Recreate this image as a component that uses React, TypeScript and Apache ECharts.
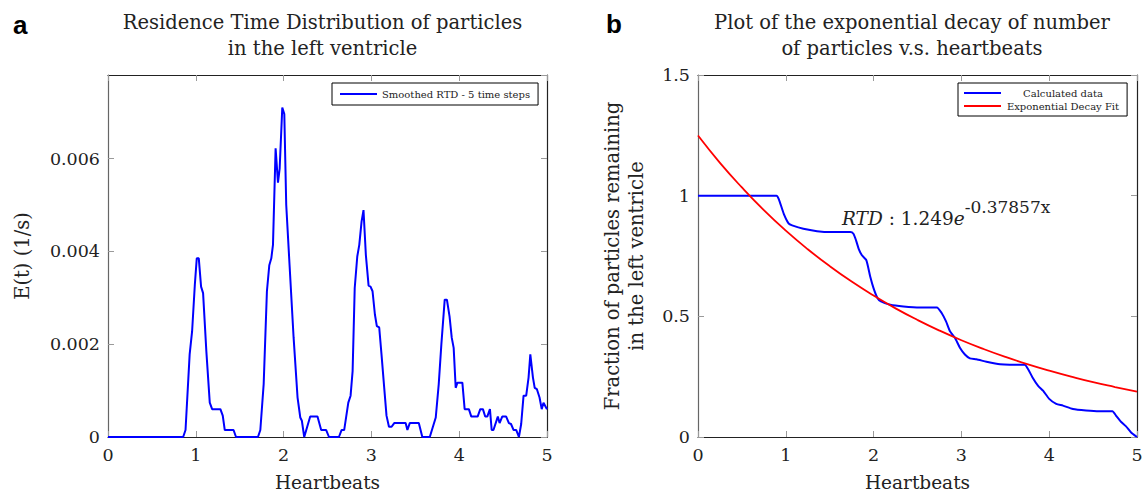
import React, { useEffect, useRef } from "react";
import * as echarts from "echarts";

const SERIF = "'DejaVu Serif', serif";
const SANS = "'Liberation Sans', Arial, sans-serif";

const leftTitle = "Residence Time Distribution of particles\nin the left ventricle";
const rightTitle = "Plot of the exponential decay of number\nof particles v.s. heartbeats";
const xName = "Heartbeats";
const leftYName = "E(t) (1/s)";
const rightYName = "Fraction of particles remaining\nin the left ventricle";
const rtdName = "Smoothed RTD - 5 time steps";
const decayName = "Calculated data";
const fitName = "Exponential Decay Fit";

const xTickValues = [0, 1, 2, 3, 4, 5];
const leftYTickLabels = ["0", "0.002", "0.004", "0.006"];
const rightYTickLabels = ["0", "0.5", "1", "1.5"];

// Smoothed RTD (panel a)
const rtdX = [
  0, 0.856, 0.883, 0.93, 0.958, 0.989, 1.011, 1.034, 1.06, 1.083, 1.12, 1.159, 1.186, 1.28, 1.307, 1.33, 1.43,
  1.458, 1.708, 1.735, 1.773, 1.81, 1.837, 1.86, 1.879, 1.909, 1.936, 1.955, 1.985, 2.008, 2.03, 2.068, 2.114,
  2.159, 2.19, 2.208, 2.235, 2.303, 2.386, 2.428, 2.485, 2.517, 2.63, 2.66, 2.69, 2.737, 2.763, 2.786, 2.81,
  2.839, 2.862, 2.888, 2.91, 2.937, 2.968, 2.99, 3.013, 3.04, 3.062, 3.089, 3.115, 3.146, 3.172, 3.2, 3.23,
  3.26, 3.39, 3.41, 3.437, 3.54, 3.58, 3.665, 3.733, 3.767, 3.797, 3.835, 3.86, 3.89, 3.915, 3.937, 3.96,
  3.98, 4.036, 4.062, 4.11, 4.138, 4.21, 4.24, 4.27, 4.296, 4.32, 4.35, 4.37, 4.39, 4.44, 4.46, 4.49, 4.535,
  4.566, 4.59, 4.62, 4.65, 4.68, 4.706, 4.733, 4.763, 4.79, 4.81, 4.84, 4.86, 4.885, 4.915, 4.94, 4.96, 5.0,
];
const rtdY = [
  0, 0, 0.00015, 0.00178, 0.00228, 0.00328, 0.00385, 0.00385, 0.00324, 0.0031, 0.00185, 0.00074, 0.0006, 0.0006,
  0.00046, 0.00015, 0.00015, 0, 0, 0.00015, 0.00114, 0.00314, 0.0037, 0.00385, 0.00414, 0.00622, 0.00548, 0.00578,
  0.0071, 0.00696, 0.005, 0.0037, 0.00214, 0.00085, 0.00042, 0.00035, 0, 0.00044, 0.00044, 0.00015, 0.00015, 0,
  0, 0.00015, 0.00015, 0.00074, 0.00089, 0.00142, 0.00321, 0.00389, 0.00414, 0.00464, 0.00489, 0.00392, 0.00326,
  0.00324, 0.00314, 0.00264, 0.00239, 0.00236, 0.00178, 0.00106, 0.00046, 0.00022, 0.00022, 0.0003, 0.0003,
  0.00015, 0.0003, 0.0003, 0, 0, 0.00042, 0.00114, 0.002, 0.00296, 0.00296, 0.0026, 0.00214, 0.00192, 0.00106,
  0.00117, 0.00117, 0.0006, 0.0006, 0.00044, 0.00044, 0.0006, 0.0006, 0.00044, 0.00044, 0.0006, 0.00015, 0.00015,
  0.00044, 0.0003, 0.00044, 0.00044, 0.0003, 0.00028, 0.00015, 0.00015, 0, 0.00028, 0.00089, 0.00089, 0.00128,
  0.00178, 0.00128, 0.00106, 0.00103, 0.00085, 0.0006, 0.00074, 0.0006,
];

// Fraction remaining (panel b)
const decayX = [
  0, 0.894, 0.92, 0.977, 1.034, 1.072, 1.2, 1.356, 1.508, 1.735, 1.77, 1.8, 1.83, 1.867, 1.917, 1.962, 2.0, 2.045,
  2.083, 2.19, 2.34, 2.53, 2.72, 2.775, 2.825, 2.87, 2.926, 2.983, 3.04, 3.097, 3.17, 3.286, 3.44, 3.55, 3.72,
  3.76, 3.81, 3.874, 3.93, 4.0, 4.08, 4.157, 4.27, 4.42, 4.57, 4.72, 4.76, 4.82, 4.875, 4.93, 5.0,
];
const decayY = [
  1.0, 1.0, 0.986, 0.925, 0.884, 0.877, 0.863, 0.853, 0.849, 0.849, 0.842, 0.815, 0.78, 0.753, 0.733, 0.664, 0.616,
  0.575, 0.562, 0.548, 0.541, 0.537, 0.537, 0.514, 0.479, 0.438, 0.411, 0.37, 0.342, 0.326, 0.322, 0.312, 0.301,
  0.299, 0.299, 0.281, 0.247, 0.212, 0.192, 0.158, 0.137, 0.13, 0.116, 0.11, 0.107, 0.107, 0.089, 0.062, 0.044,
  0.02, 0,
];

// Exponential decay fit curve (panel b)
const fitX = [0, 0.25, 0.5, 0.75, 1, 1.25, 1.5, 1.75, 2, 2.25, 2.5, 2.75, 3, 3.25, 3.5, 3.75, 4, 4.25, 4.5, 4.75, 5];
const fitY = [
  1.249, 1.136, 1.034, 0.94, 0.855, 0.778, 0.708, 0.644, 0.586, 0.533, 0.485, 0.441, 0.401, 0.365, 0.332, 0.302,
  0.275, 0.25, 0.227, 0.207, 0.188,
];

const pairs = (xs: number[], ys: number[]) => xs.map((x, i) => [x, ys[i]]);

const tickColor = "#9a9a9a";
const frameColor = "#222";

function xAxisPair(grid: number) {
  const base = {
    gridIndex: grid,
    type: "value" as const,
    min: xTickValues[0],
    max: xTickValues[xTickValues.length - 1],
    interval: 1,
    splitLine: { show: false },
    axisTick: { show: true, inside: true, length: 6, lineStyle: { color: tickColor, width: 1 } },
  };
  return [
    {
      ...base,
      position: "bottom",
      axisLine: { show: true, onZero: false, lineStyle: { color: frameColor, width: 1.2 } },
      axisLabel: { show: true, fontFamily: SERIF, fontSize: 17.5, color: "#222", margin: 9 },
      name: xName,
      nameLocation: "middle",
      nameGap: 36,
      nameTextStyle: { fontFamily: SERIF, fontSize: 18.5, color: "#222" },
    },
    {
      ...base,
      position: "top",
      axisLine: { show: true, onZero: false, lineStyle: { color: frameColor, width: 1.2 } },
      axisLabel: { show: false },
    },
  ];
}

function yAxisPair(grid: number, max: number, interval: number, labels: string[], name: string, nameGap: number) {
  const base = {
    gridIndex: grid,
    type: "value" as const,
    min: 0,
    max,
    interval,
    splitLine: { show: false },
    axisTick: { show: true, inside: true, length: 6, lineStyle: { color: tickColor, width: 1 } },
  };
  return [
    {
      ...base,
      position: "left",
      axisLine: { show: true, onZero: false, lineStyle: { color: "#666", width: 1.2 } },
      axisLabel: {
        show: true,
        fontFamily: SERIF,
        fontSize: 17.5,
        color: "#222",
        margin: 8,
        showMaxLabel: max / interval === Math.round(max / interval),
        formatter: (v: number) => {
          const idx = Math.round(v / interval);
          return Math.abs(idx * interval - v) < interval * 1e-6 && labels[idx] !== undefined ? labels[idx] : "";
        },
      },
      name,
      nameLocation: "middle",
      nameRotate: 90,
      nameGap,
      nameTextStyle: { fontFamily: SERIF, fontSize: 19.5, color: "#222", lineHeight: 24 },
    },
    {
      ...base,
      position: "right",
      axisLine: { show: true, onZero: false, lineStyle: { color: frameColor, width: 1.2 } },
      axisLabel: { show: false },
    },
  ];
}

export default function App() {
  const ref = useRef<HTMLDivElement>(null);
  useEffect(() => {
    if (!ref.current) return;
    const chart = echarts.init(ref.current, undefined, { renderer: "svg" });
    const legendText = { fontFamily: SERIF, fontSize: 10, color: "#222" };
    chart.setOption({
      animation: false,
      backgroundColor: "#fff",
      title: [
        {
          text: leftTitle,
          left: 317.5,
          top: 4,
          textAlign: "center",
          textStyle: { fontFamily: SERIF, fontSize: 19.5, fontWeight: "normal", color: "#222", lineHeight: 26 },
        },
        {
          text: rightTitle,
          left: 907,
          top: 4,
          textAlign: "center",
          textStyle: { fontFamily: SERIF, fontSize: 19.5, fontWeight: "normal", color: "#222", lineHeight: 26 },
        },
      ],
      grid: [
        { left: 108, top: 75, width: 439, height: 364, show: false },
        { left: 698, top: 75, width: 439, height: 365, show: false },
      ],
      xAxis: [...xAxisPair(0), ...xAxisPair(1)],
      yAxis: [
        ...yAxisPair(0, 0.0078, 0.002, leftYTickLabels, leftYName, 74),
        ...yAxisPair(1, 1.5, 0.5, rightYTickLabels, rightYName, 50),
      ],
      legend: [
        {
          data: [rtdName],
          left: 332,
          top: 83,
          orient: "horizontal",
          icon: "rect",
          itemWidth: 37,
          itemHeight: 2,
          padding: [6, 8, 6, 8],
          borderColor: "#000",
          borderWidth: 1,
          borderRadius: 0,
          textStyle: legendText,
        },
        {
          data: [decayName, fitName],
          left: 958,
          top: 83,
          orient: "vertical",
          icon: "rect",
          itemWidth: 37,
          itemHeight: 2,
          itemGap: 3,
          padding: [5, 8, 5, 6],
          borderColor: "#000",
          borderWidth: 1,
          borderRadius: 0,
          formatter: (n: string) => `{c|${n}}`,
          textStyle: {
            ...legendText,
            rich: { c: { fontFamily: SERIF, fontSize: 10, color: "#222", width: 114, align: "center" } },
          },
        },
      ],
      series: [
        {
          name: rtdName,
          type: "line",
          xAxisIndex: 0,
          yAxisIndex: 0,
          data: pairs(rtdX, rtdY),
          showSymbol: false,
          symbol: "none",
          lineStyle: { color: "#0000ff", width: 2 },
          itemStyle: { color: "#0000ff" },
        },
        {
          name: decayName,
          type: "line",
          xAxisIndex: 2,
          yAxisIndex: 2,
          data: pairs(decayX, decayY),
          showSymbol: false,
          symbol: "none",
          smooth: 0.2,
          lineStyle: { color: "#0000ff", width: 2 },
          itemStyle: { color: "#0000ff" },
        },
        {
          name: fitName,
          type: "line",
          xAxisIndex: 2,
          yAxisIndex: 2,
          data: pairs(fitX, fitY),
          showSymbol: false,
          symbol: "none",
          smooth: true,
          lineStyle: { color: "#ff0000", width: 1.8 },
          itemStyle: { color: "#ff0000" },
        },
      ],
      graphic: [
        {
          type: "text",
          left: 13,
          top: 12,
          style: { text: "a", font: `bold 26px ${SANS}`, fill: "#000" },
        },
        {
          type: "text",
          left: 606,
          top: 11,
          style: { text: "b", font: `bold 26px ${SANS}`, fill: "#000" },
        },
        {
          type: "text",
          x: 842,
          y: 198,
          style: {
            text: "{i|RTD}{n| : 1.249}{i|e}{s|-0.37857x}",
            fill: "#222",
            rich: {
              i: { fontFamily: SERIF, fontStyle: "italic", fontSize: 18.5, lineHeight: 30, verticalAlign: "bottom", fill: "#222" },
              n: { fontFamily: SERIF, fontSize: 18.5, lineHeight: 30, verticalAlign: "bottom", fill: "#222" },
              s: { fontFamily: SERIF, fontSize: 17, lineHeight: 22, verticalAlign: "top", fill: "#222" },
            },
          },
        },
      ],
    });
    return () => chart.dispose();
  }, []);
  return <div ref={ref} style={{ position: "absolute", left: 0, top: 0, width: 1146, height: 497 }} />;
}
